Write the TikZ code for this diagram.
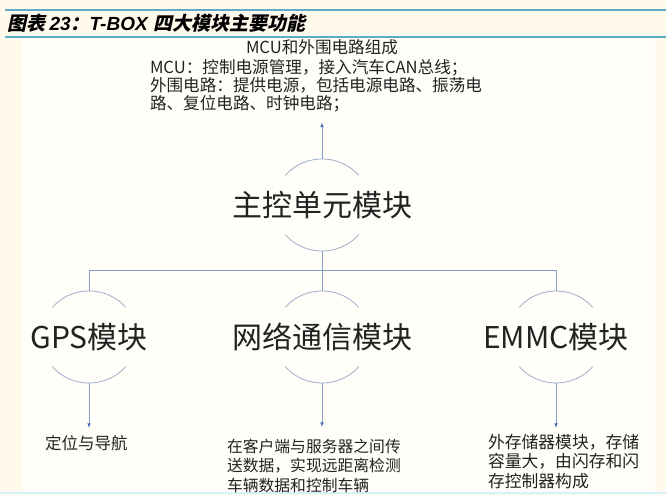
\documentclass[tikz,border=0pt]{standalone}
\usepackage{fontspec}
\setmainfont{Noto Sans CJK SC}
\newfontfamily\titlecjk{Noto Sans CJK SC}[FakeSlant=0.22]
\newfontfamily\titlelat{Liberation Sans}
\usetikzlibrary{arrows.meta}
\definecolor{outerbg}{RGB}{255,250,236}
\definecolor{innerbg}{RGB}{255,254,249}
\definecolor{titleline}{RGB}{95,170,200}
\definecolor{bottomline}{RGB}{214,242,247}
\definecolor{linecol}{RGB}{130,158,200}
\definecolor{arccol}{RGB}{155,170,198}
\definecolor{tipcol}{RGB}{70,108,180}
\definecolor{txtcol}{RGB}{34,34,34}
\newcommand{\modarcs}[1]{%
  \draw[arcline] ([shift={(40:48 and 46)}]#1.center) arc[start angle=40,end angle=140,x radius=48,y radius=46];
  \draw[arcline] ([shift={(220:48 and 46)}]#1.center) arc[start angle=220,end angle=320,x radius=48,y radius=46];
  \path (#1.center) ++(0,46) coordinate (#1T);
  \path (#1.center) ++(0,-46) coordinate (#1B);
}
\begin{document}
\begin{tikzpicture}[x=1pt,y=1pt,
  conn/.style={draw=linecol, line width=0.8pt},
  arcline/.style={draw=arccol, line width=0.75pt},
  arr/.style={conn, -{Latex[length=4.5pt,width=3.5pt,color=tipcol]}},
  bigtxt/.style={font=\fontsize{30}{36}\selectfont, text=txtcol, inner sep=0pt},
  desctxt/.style={text=txtcol, align=left, inner sep=0pt, outer xsep=0pt, anchor=north west},
]
\useasboundingbox (0,0) rectangle (666,495);
\fill[outerbg] (0,0) rectangle (666,495);
\fill[innerbg] (22,3) rectangle (655,457);
\draw[bottomline, line width=2pt] (0,2) -- (666,2);
\draw[titleline, line width=2pt] (5,485) -- (666,485);
\draw[titleline, line width=2pt] (5,458) -- (666,458);

\node[anchor=west, inner sep=0pt, text=black, font=\fontsize{19}{22}\selectfont] (title) at (7,471.5)
  {\titlecjk\bfseries 图表 \titlelat\bfseries\itshape 23\titlecjk\bfseries ：\titlelat\bfseries\itshape T-BOX \titlecjk\bfseries 四大模块主要功能};

\node[bigtxt] (main) at (322,290) {主控单元模块};
\node[bigtxt] (gps) at (89,158) {GPS模块};
\node[bigtxt] (net) at (322,158) {网络通信模块};
\node[bigtxt] (emmc) at (556,158) {EMMC模块};
\modarcs{main}
\modarcs{gps}
\modarcs{net}
\modarcs{emmc}

\node[desctxt, text width=344pt, outer ysep=10pt, font=\fontsize{16.6}{18.3}\selectfont] (topd) at (150,465.5)
  {\makebox[344pt][c]{MCU和外围电路组成}\\[1.5pt]
   MCU：控制电源管理，接入汽车CAN总线；\\
   外围电路：提供电源，包括电源电路、振荡电\\
   路、复位电路、时钟电路；};

\node[desctxt, outer ysep=7pt, font=\fontsize{16.5}{19.5}\selectfont] (gpsd) at (45,67) {定位与导航};
\node[desctxt, outer ysep=12pt, font=\fontsize{15.8}{19.5}\selectfont] (netd) at (227,68)
  {在客户端与服务器之间传\\送数据，实现远距离检测\\车辆数据和控制车辆};
\node[desctxt, outer ysep=6pt, font=\fontsize{16.8}{19.5}\selectfont] (emmcd) at (488,67)
  {外存储器模块，存储\\容量大，由闪存和闪\\存控制器构成};

\coordinate (bus) at (322,225);
\draw[arr] (mainT) -- (mainT |- topd.south);
\draw[conn] (mainB) -- (netT);
\draw[conn] (gpsT) -- (gpsT |- bus) -- (emmcT |- bus) -- (emmcT);
\draw[arr] (gpsB) -- (gpsB |- gpsd.north);
\draw[arr] (netB) -- (netB |- netd.north);
\draw[arr] (emmcB) -- (emmcB |- emmcd.north);
\end{tikzpicture}
\end{document}
